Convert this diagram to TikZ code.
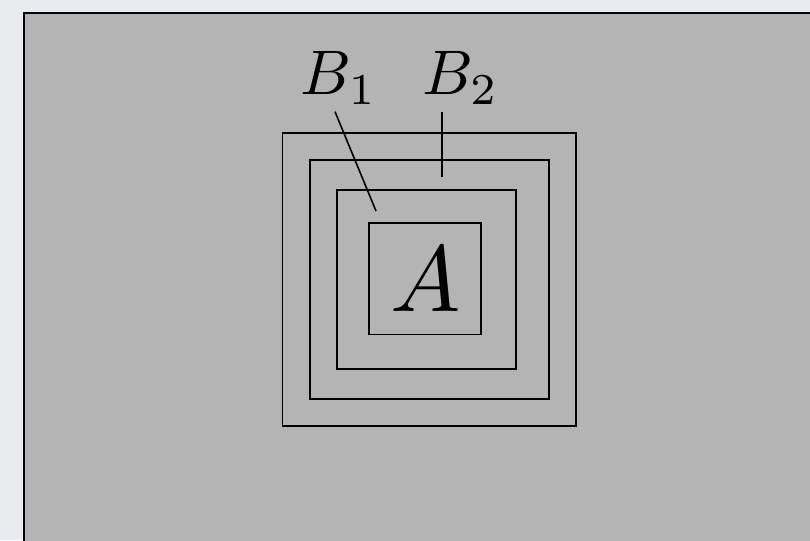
\documentclass[tikz,border=0pt]{standalone}
\definecolor{pagebg}{RGB}{234,235,239}
\definecolor{panel}{RGB}{180,180,180}
\begin{document}
\begin{tikzpicture}[x=1pt,y=-1pt,
  box/.style={draw=black,line width=1.8pt},
  leader/.style={draw=black,line width=1.6pt},
  lbl/.style={inner sep=0pt,anchor=base,scale=6.3},
  biglbl/.style={inner sep=0pt,anchor=base,scale=9.4}]
\useasboundingbox (0,0) rectangle (810,540);
\fill[pagebg] (0,0) rectangle (810,540);
\fill[panel] (24,13) rectangle (815,545);
\draw[line width=2.6pt] (24,545) -- (24,13) -- (815,13);
% nested squares
\draw[box] (282.5,133.3) rectangle (575.7,426);
\draw[box] (310,160.3) rectangle (548.7,399);
\draw[box] (336.7,190) rectangle (515.7,369);
\draw[box] (369.3,223.3) rectangle (481,334.5);
% labels
\node[lbl] (b1) at (339,95) {$B_1$};
\node[lbl] (b2) at (460.5,95) {$B_2$};
\node[biglbl] (a) at (425.5,311.7) {$A$};
% leader lines
\coordinate (b1s) at (335,111.7);
\coordinate (b1e) at (376,211);
\coordinate (b2s) at (441.7,111.7);
\coordinate (b2e) at (441.7,177.3);
\draw[leader] (b1s) -- (b1e);
\draw[leader] (b2s) -- (b2e);
\end{tikzpicture}
\end{document}
